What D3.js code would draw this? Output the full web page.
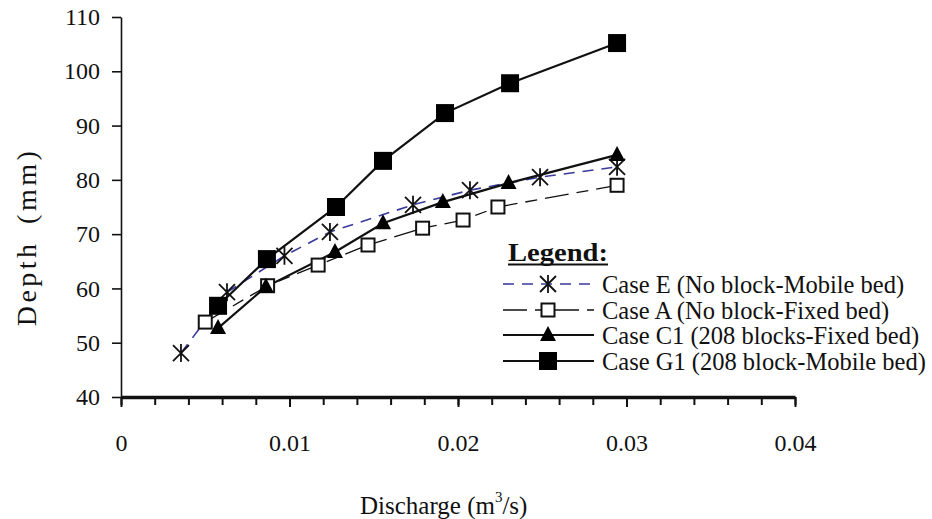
<!DOCTYPE html>
<html><head><meta charset="utf-8">
<script src="https://cdn.jsdelivr.net/npm/d3@7"></script>
<style>body{margin:0;background:#fff}svg{display:block}text{font-family:"Liberation Serif","Times New Roman",serif;fill:#111}</style>
</head><body><svg id="c" width="932" height="519"></svg>
<script>
// ---- data ----
const caseE_q = [0.00356, 0.00629, 0.0097, 0.0124, 0.01733, 0.02071, 0.02487, 0.02944];
const caseE_d = [48.1, 59.3, 66.0, 70.4, 75.4, 78.1, 80.5, 82.4];
const caseA_q = [0.0050, 0.0087, 0.0117, 0.01466, 0.0179, 0.0203, 0.02237, 0.02944];
const caseA_d = [53.8, 60.5, 64.3, 68.0, 71.1, 72.6, 75.0, 79.0];
const caseC1_q = [0.00576, 0.0086, 0.01270, 0.01555, 0.01910, 0.02300, 0.02944];
const caseC1_d = [52.7, 60.3, 66.7, 72.0, 75.9, 79.4, 84.6];
const caseG1_q = [0.00576, 0.00866, 0.01276, 0.01555, 0.01923, 0.02309, 0.02944];
const caseG1_d = [56.8, 65.4, 75.0, 83.5, 92.3, 97.8, 105.2];
const seriesNames = ["Case E (No block-Mobile bed)", "Case A (No block-Fixed bed)", "Case C1 (208 blocks-Fixed bed)", "Case G1 (208 block-Mobile bed)"];
const xTickValues = [0, 0.01, 0.02, 0.03, 0.04];
const xTickLabels = ["0", "0.01", "0.02", "0.03", "0.04"];
const xMinorTicks = [0,0.002,0.004,0.006,0.008,0.01,0.012,0.014,0.016,0.018,0.02,0.022,0.024,0.026,0.028,0.03,0.032,0.034,0.036,0.038,0.04];
const yTickValues = [40, 50, 60, 70, 80, 90, 100, 110];
const yTickLabels = ["40", "50", "60", "70", "80", "90", "100", "110"];
const xTitle = "Discharge (m";
const yTitle = "Depth (mm)";
const legendTitle = "Legend:";

const svg = d3.select("#c");
const x = d3.scaleLinear().domain([0, 0.04]).range([121, 795]);
const y = d3.scaleLinear().domain([40, 110]).range([397, 17]);

// y axis
const gy = svg.append("g").attr("transform", "translate(121,0)")
  .call(d3.axisLeft(y).tickValues(yTickValues).tickFormat((d, i) => yTickLabels[i]).tickSize(9).tickSizeOuter(0).tickPadding(12));
gy.select(".domain").attr("stroke", "#111").attr("stroke-width", 1.6);
gy.selectAll(".tick line").attr("stroke", "#111").attr("stroke-width", 1.6);
gy.selectAll(".tick text").attr("font-size", 24).attr("font-family", "Liberation Serif").attr("fill", "#222");

// x axis minor
const gxm = svg.append("g").attr("transform", "translate(0,397)")
  .call(d3.axisBottom(x).tickValues(xMinorTicks).tickFormat("").tickSize(8).tickSizeOuter(0));
gxm.select(".domain").remove();
gxm.selectAll(".tick line").attr("stroke", "#111").attr("stroke-width", 2);
// x axis major
const gx = svg.append("g").attr("transform", "translate(0,397)")
  .call(d3.axisBottom(x).tickValues(xTickValues).tickFormat((d, i) => xTickLabels[i]).tickSize(10).tickSizeOuter(0).tickPadding(27));
gx.select(".domain").attr("stroke", "#111").attr("stroke-width", 3.5);
gx.selectAll(".tick line").attr("stroke", "#111").attr("stroke-width", 2);
gx.selectAll(".tick text").attr("font-size", 24).attr("font-family", "Liberation Serif").attr("fill", "#222");

// titles
const xt = svg.append("text").attr("x", 360).attr("y", 514).attr("font-size", 25).attr("fill", "#222");
xt.append("tspan").text(xTitle);
xt.append("tspan").attr("font-size", 15).attr("dy", -12).text("3");
xt.append("tspan").attr("dy", 12).text("/s)");
svg.append("text").attr("transform", "translate(36,237) rotate(-90)").attr("text-anchor", "middle").attr("fill", "#444")
  .attr("font-size", 28).attr("letter-spacing", 3.5).attr("word-spacing", 6).text(yTitle);

// series
const series = [
  {q: caseE_q, d: caseE_d, color: "#3a3a9c", w: 1.6, dash: "11,8", marker: "star"},
  {q: caseA_q, d: caseA_d, color: "#111", w: 1.3, dash: "24,8,12,8", marker: "open"},
  {q: caseC1_q, d: caseC1_d, color: "#111", w: 2.2, dash: null, marker: "tri"},
  {q: caseG1_q, d: caseG1_d, color: "#111", w: 2.2, dash: null, marker: "sq"}
];
const line = d3.line().x(p => x(p[0])).y(p => y(p[1]));

function drawMarker(g, type, cx, cy) {
  if (type === "sq") {
    g.append("rect").attr("x", cx - 9).attr("y", cy - 9).attr("width", 18).attr("height", 18).attr("fill", "#000");
  } else if (type === "open") {
    g.append("rect").attr("x", cx - 6.5).attr("y", cy - 6.5).attr("width", 13).attr("height", 13).attr("fill", "#fff").attr("stroke", "#111").attr("stroke-width", 2);
  } else if (type === "tri") {
    g.append("path").attr("d", `M${cx},${cy - 9}L${cx + 8},${cy + 6}L${cx - 8},${cy + 6}Z`).attr("fill", "#000");
  } else if (type === "star") {
    const r = 8;
    g.append("path").attr("d", `M${cx - r},${cy - r}L${cx + r},${cy + r}M${cx - r},${cy + r}L${cx + r},${cy - r}M${cx},${cy - r - 1}L${cx},${cy + r + 1}`)
      .attr("stroke", "#111").attr("stroke-width", 1.8).attr("fill", "none");
  }
}

series.forEach(s => {
  const pts = s.q.map((q, i) => [q, s.d[i]]);
  svg.append("path").attr("d", line(pts)).attr("fill", "none").attr("stroke", s.color)
    .attr("stroke-width", s.w).attr("stroke-dasharray", s.dash);
});
series.forEach(s => {
  const g = svg.append("g");
  s.q.forEach((q, i) => drawMarker(g, s.marker, x(q), y(s.d[i])));
});

// legend
const lg = svg.append("g");
lg.append("text").attr("x", 508).attr("y", 261).attr("font-size", 26).attr("font-weight", "bold")
  .attr("textLength", 100).attr("lengthAdjust", "spacingAndGlyphs").text(legendTitle);
lg.append("line").attr("x1", 508).attr("x2", 608).attr("y1", 264.5).attr("y2", 264.5).attr("stroke", "#111").attr("stroke-width", 2);
const rowsY = [284, 310, 335, 361];
series.forEach((s, i) => {
  const yy = rowsY[i];
  lg.append("line").attr("x1", 503).attr("x2", 594).attr("y1", yy).attr("y2", yy).attr("stroke", s.color)
    .attr("stroke-width", s.w).attr("stroke-dasharray", s.dash);
  const mg = lg.append("g");
  drawMarker(mg, s.marker, 548, yy);
  lg.append("text").attr("x", 602).attr("y", yy).attr("dy", "0.35em").attr("font-size", 24.5).attr("fill", "#222").text(seriesNames[i]);
});
</script></body></html>
